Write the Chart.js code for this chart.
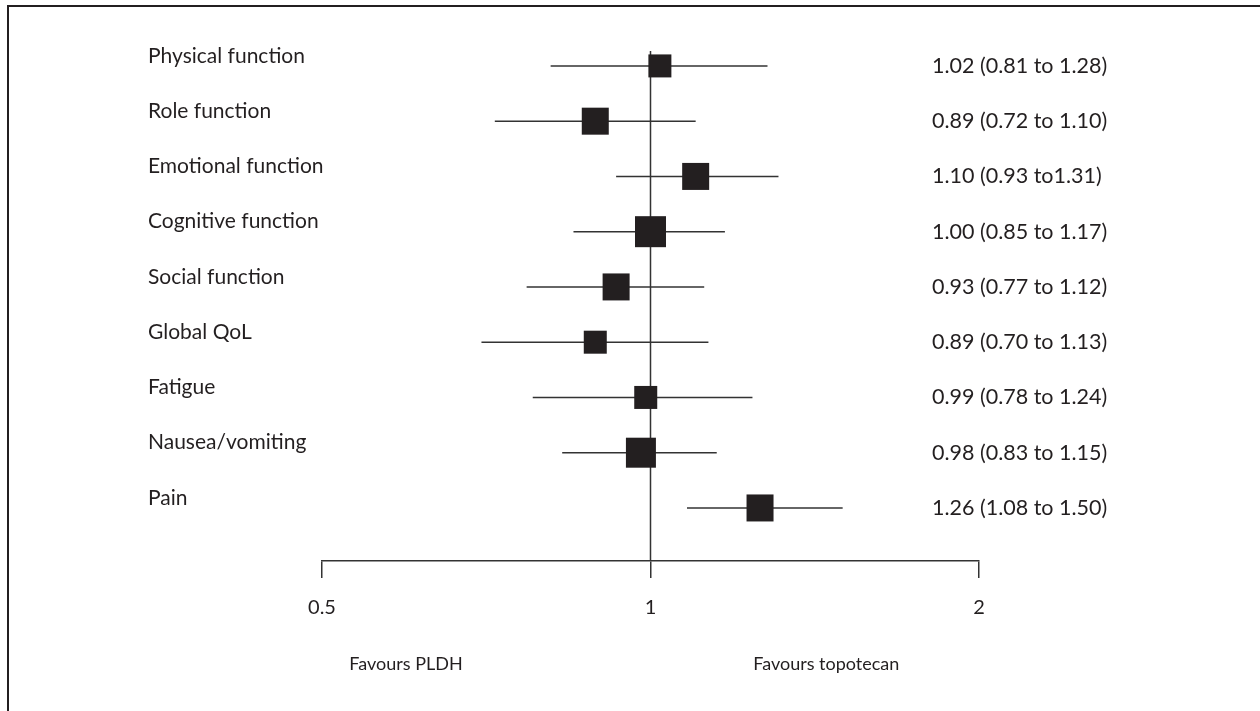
<!DOCTYPE html>
<html>
<head>
<meta charset="utf-8">
<script src="https://cdn.jsdelivr.net/npm/chart.js@4.4.1/dist/chart.umd.min.js"></script>
<style>
  html, body { margin: 0; padding: 0; background: #fff; }
  #wrap { position: relative; width: 1260px; height: 711px; overflow: hidden; }
  #frame { position: absolute; left: 7px; top: 5px; width: 1300px; height: 800px;
           border-top: 2px solid #231f20; border-left: 2px solid #231f20; }
  #grafico { position: absolute; left: 0; top: 0; }
</style>
</head>
<body>
<div id="wrap">
  <div id="frame"></div>
  <canvas id="grafico" width="1260" height="711"></canvas>
</div>
<script>
// ====================================
// Forest plot: QoL hazard ratios
// ====================================
const categorias = ['Physical function', 'Role function', 'Emotional function', 'Cognitive function',
  'Social function', 'Global QoL', 'Fatigue', 'Nausea/vomiting', 'Pain'];
const estimacion = [1.02, 0.89, 1.10, 1.00, 0.93, 0.89, 0.99, 0.98, 1.26];
const limiteInf = [0.81, 0.72, 0.93, 0.85, 0.77, 0.70, 0.78, 0.83, 1.08];
const limiteSup = [1.28, 1.10, 1.31, 1.17, 1.12, 1.13, 1.24, 1.15, 1.50];
const etiquetasIC = ['1.02 (0.81 to 1.28)', '0.89 (0.72 to 1.10)', '1.10 (0.93 to1.31)',
  '1.00 (0.85 to 1.17)', '0.93 (0.77 to 1.12)', '0.89 (0.70 to 1.13)', '0.99 (0.78 to 1.24)',
  '0.98 (0.83 to 1.15)', '1.26 (1.08 to 1.50)'];
const tickValores = [0.5, 1, 2];
const tickEtiquetas = ['0.5', '1', '2'];
const favorece = ['Favours PLDH', 'Favours topotecan'];

// lado del cuadrado en px (peso de cada fila)
const ladoCuadro = [23, 27, 27, 31, 27, 23, 23, 30, 27];

const TINTA = '#231f20';
const LINEA = '#333333';
const FUENTE = 'Lato, "Open Sans", sans-serif';

// lineas de intervalo de confianza, una por fila
const datasetsIC = categorias.map((c, i) => ({
  type: 'line',
  data: [{ x: limiteInf[i], y: i }, { x: limiteSup[i], y: i }],
  borderColor: LINEA,
  borderWidth: 1.5,
  pointRadius: 0,
  order: 2
}));

// linea vertical de no efecto
const lineaNula = {
  type: 'line',
  data: [{ x: 1, y: -0.27 }, { x: 1, y: 8.96 }],
  borderColor: LINEA,
  borderWidth: 1.5,
  pointRadius: 0,
  order: 3
};

const cuadros = {
  type: 'scatter',
  data: estimacion.map((v, i) => ({ x: v, y: i })),
  pointStyle: 'rect',
  pointRadius: ladoCuadro.map(s => s / Math.SQRT2),
  backgroundColor: TINTA,
  borderColor: TINTA,
  borderWidth: 0,
  order: 1
};

// textos de filas y de favorece
const textosPlugin = {
  id: 'textos',
  afterDraw(chart) {
    const ctx = chart.ctx;
    const x = chart.scales.x;
    const y = chart.scales.y;
    ctx.save();
    ctx.fillStyle = TINTA;
    ctx.textBaseline = 'middle';
    ctx.textAlign = 'left';
    categorias.forEach((c, i) => {
      const py = y.getPixelForValue(i);
      ctx.font = '21px ' + FUENTE;
      ctx.fillText(c, 148, py - 10);
      ctx.font = '21.5px ' + FUENTE;
      ctx.fillText(etiquetasIC[i], 932, py);
    });
    ctx.font = '18px ' + FUENTE;
    ctx.textAlign = 'center';
    ctx.fillText(favorece[0], x.getPixelForValue(0.597), 664);
    ctx.fillText(favorece[1], x.getPixelForValue(1.449), 664);
    ctx.restore();
  }
};

new Chart(document.getElementById('grafico'), {
  data: { datasets: [cuadros, lineaNula, ...datasetsIC] },
  options: {
    responsive: false,
    animation: false,
    clip: false,
    layout: { padding: { left: 322, right: 281, top: 51, bottom: 0 } },
    plugins: { legend: { display: false }, tooltip: { enabled: false } },
    scales: {
      x: {
        type: 'logarithmic',
        min: 0.5,
        max: 2,
        afterBuildTicks: (s) => { s.ticks = tickValores.map(v => ({ value: v })); },
        afterFit: (s) => { s.height = 150; },
        border: { display: true, color: LINEA, width: 1.5 },
        grid: { drawOnChartArea: false, drawTicks: true, tickLength: 17, color: LINEA, lineWidth: 1.5 },
        ticks: {
          autoSkip: false,
          maxRotation: 0,
          padding: 18,
          color: TINTA,
          font: { family: FUENTE, size: 20 },
          callback: (v) => tickEtiquetas[tickValores.indexOf(v)]
        }
      },
      y: { type: 'linear', display: false, reverse: true, min: -0.27, max: 8.96 }
    }
  },
  plugins: [textosPlugin]
});
</script>
</body>
</html>
